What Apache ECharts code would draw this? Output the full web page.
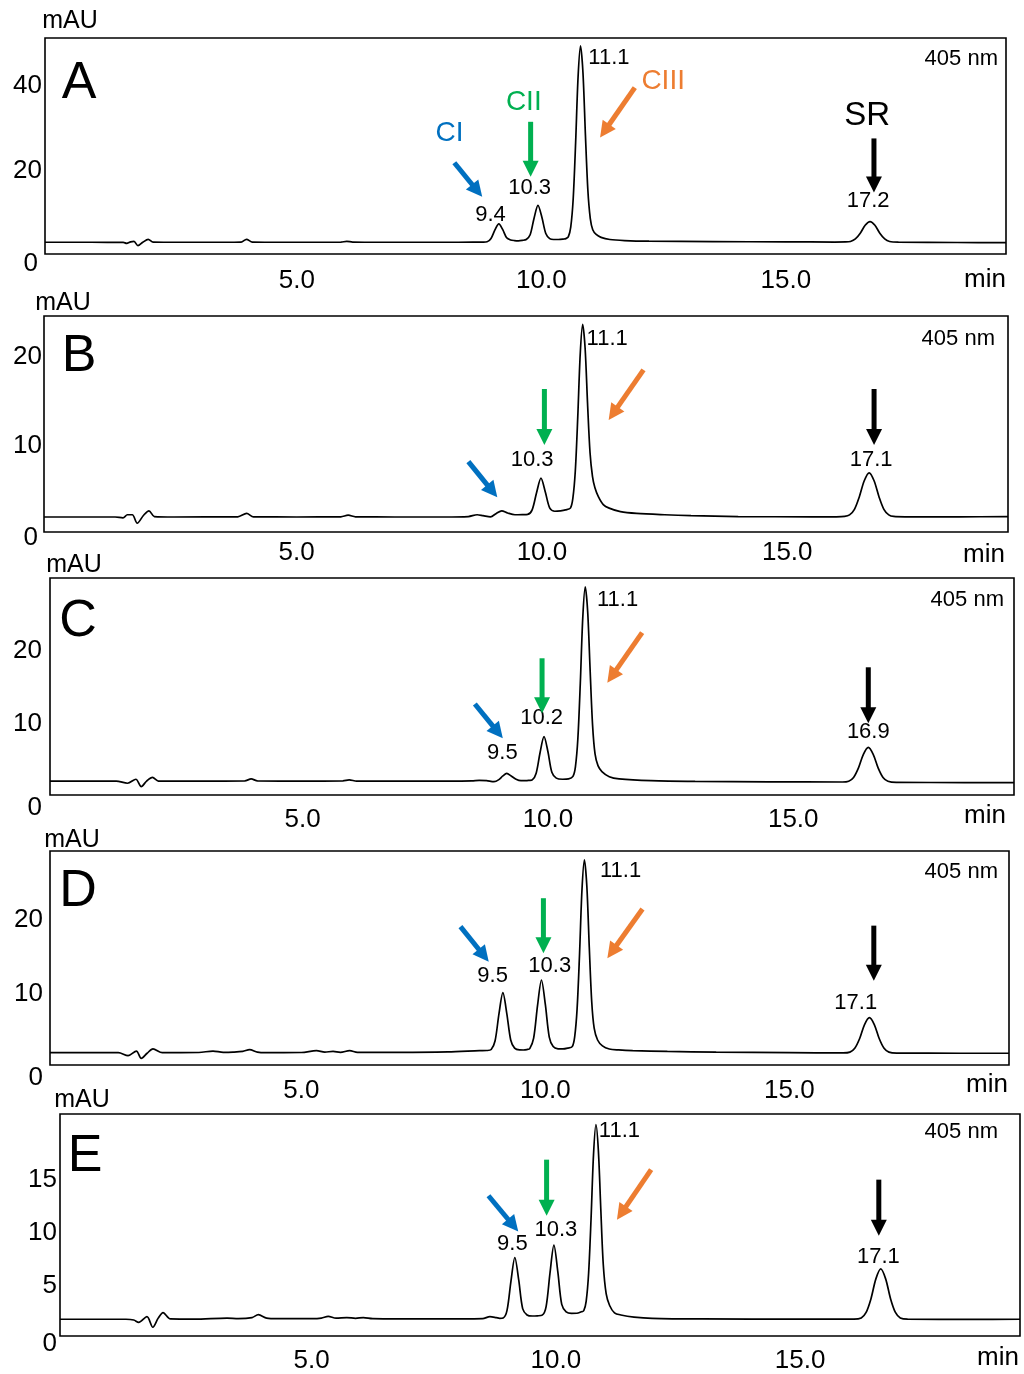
<!DOCTYPE html>
<html>
<head>
<meta charset="utf-8">
<script src="https://cdn.jsdelivr.net/npm/echarts@6/dist/echarts.min.js"></script>
<style>
  html, body { margin: 0; padding: 0; background: #fff; }
  #chart { width: 1024px; height: 1374px; }
</style>
</head>
<body>
<div id="chart"></div>
<script>
const FONT = '"Liberation Sans", Arial, Helvetica, sans-serif'
const BLUE = '#0070C0', GREEN = '#00B050', ORANGE = '#ED7D31', BLACK = '#000000'

// retention time (min) on the shared x axis
const xTicks = [5, 10, 15]
const xMin = -0.15
const xMax = 19.5

// chromatograms, [time min, absorbance mAU]
const traceA = [[-0.15,2.75],[0.8,2.75],[1.45,2.72],[1.52,2.5],[1.6,2.85],[1.67,2.95],[1.75,1.95],[1.85,2.75],[1.96,3.45],[2.06,2.8],[2.6,2.75],[3.5,2.75],[3.86,2.8],[3.97,3.45],[4.09,2.8],[5.0,2.75],[5.9,2.78],[6.02,2.98],[6.14,2.8],[7.0,2.75],[8.0,2.75],[8.6,2.78],[8.8,2.8],[8.89,2.87],[8.97,3.65],[9.05,5.64],[9.13,7.05],[9.21,5.7],[9.29,3.8],[9.37,3.3],[9.45,3.15],[9.53,3.1],[9.61,3.2],[9.69,3.4],[9.77,4.5],[9.85,8.4],[9.93,11.4],[10.01,8.6],[10.09,4.8],[10.17,3.6],[10.25,3.4],[10.35,3.4],[10.45,3.5],[10.5,3.6],[10.55,4.0],[10.6,6.3],[10.65,12.9],[10.7,26.1],[10.75,41.5],[10.8,48.8],[10.85,42.5],[10.9,28.0],[10.95,15.0],[11.0,8.3],[11.05,5.7],[11.12,4.6],[11.22,3.9],[11.4,3.4],[11.7,3.15],[12.2,3.0],[13.5,2.9],[15.0,2.85],[16.0,2.8],[16.22,2.82],[16.32,2.94],[16.42,3.53],[16.52,4.88],[16.62,6.73],[16.72,7.6],[16.82,6.73],[16.92,4.88],[17.02,3.53],[17.12,2.94],[17.3,2.78],[18.5,2.7],[19.5,2.65]]
const traceB = [[-0.15,1.7],[1.3,1.7],[1.46,1.6],[1.55,1.95],[1.65,1.95],[1.75,1.0],[1.88,1.9],[1.99,2.4],[2.1,1.75],[2.5,1.7],[3.8,1.72],[3.98,2.1],[4.12,1.72],[5.0,1.7],[5.9,1.72],[6.05,1.9],[6.2,1.72],[7.0,1.7],[8.0,1.7],[8.5,1.75],[8.68,1.95],[8.8,1.85],[8.95,1.72],[9.07,2.1],[9.18,2.4],[9.3,2.15],[9.45,1.95],[9.6,1.97],[9.71,2.0],[9.8,2.5],[9.89,4.44],[9.98,6.1],[10.07,4.5],[10.16,2.7],[10.26,2.35],[10.38,2.4],[10.48,2.5],[10.58,2.7],[10.63,3.8],[10.68,6.9],[10.73,13.0],[10.78,20.1],[10.83,23.5],[10.88,20.8],[10.93,14.5],[10.98,9.0],[11.03,6.3],[11.08,5.0],[11.15,4.0],[11.25,3.1],[11.37,2.7],[11.6,2.3],[11.93,2.1],[12.5,1.95],[13.04,1.85],[14.0,1.75],[15.5,1.72],[16.0,1.72],[16.17,1.76],[16.27,1.94],[16.37,2.57],[16.47,4.0],[16.57,5.8],[16.67,6.7],[16.77,5.8],[16.87,4.0],[16.97,2.57],[17.07,1.94],[17.17,1.76],[17.4,1.72],[18.5,1.72],[19.5,1.75]]
const traceC = [[-0.15,1.9],[1.2,1.9],[1.43,1.6],[1.6,2.15],[1.71,1.15],[1.82,1.9],[1.94,2.4],[2.06,1.9],[3.0,1.9],[3.82,1.92],[3.95,2.2],[4.08,1.92],[5.0,1.9],[5.82,1.92],[5.95,2.05],[6.1,1.9],[7.0,1.88],[8.0,1.88],[8.45,1.92],[8.6,2.0],[8.75,1.95],[8.9,1.82],[9.0,2.1],[9.08,2.6],[9.16,2.95],[9.25,2.6],[9.35,2.15],[9.45,1.95],[9.55,1.95],[9.62,2.0],[9.68,2.06],[9.76,2.97],[9.84,5.8],[9.92,7.95],[10.0,5.9],[10.08,3.1],[10.17,2.3],[10.3,2.15],[10.42,2.2],[10.51,2.55],[10.56,3.85],[10.61,7.7],[10.66,15.3],[10.71,24.2],[10.76,28.4],[10.81,25.0],[10.86,17.0],[10.91,9.5],[10.96,5.6],[11.02,4.0],[11.1,3.2],[11.25,2.5],[11.45,2.2],[12.1,1.95],[13.0,1.85],[14.5,1.8],[16.0,1.77],[16.13,1.88],[16.23,2.39],[16.33,3.7],[16.43,5.55],[16.53,6.5],[16.63,5.55],[16.73,3.7],[16.83,2.39],[16.93,1.88],[17.1,1.72],[18.5,1.7],[19.5,1.7]]
const traceD = [[-0.15,1.68],[1.25,1.68],[1.45,1.27],[1.62,1.9],[1.72,0.9],[1.84,1.6],[1.96,2.2],[2.15,1.68],[2.9,1.7],[3.19,1.9],[3.4,1.72],[3.6,1.75],[3.8,1.85],[3.94,2.1],[4.1,1.75],[4.28,1.68],[5.0,1.7],[5.31,1.95],[5.48,1.75],[5.65,1.85],[5.8,1.72],[5.99,1.95],[6.15,1.72],[7.0,1.72],[8.0,1.78],[8.65,1.95],[8.8,1.97],[8.89,2.1],[8.97,3.3],[9.05,7.0],[9.13,9.84],[9.21,7.0],[9.29,3.4],[9.37,2.3],[9.47,2.05],[9.55,2.04],[9.62,2.1],[9.68,2.23],[9.76,3.65],[9.84,8.1],[9.92,11.56],[10.0,8.2],[10.08,3.8],[10.16,2.5],[10.26,2.2],[10.36,2.18],[10.46,2.3],[10.55,2.5],[10.6,3.8],[10.65,7.6],[10.7,15.0],[10.75,23.8],[10.8,27.9],[10.85,24.3],[10.9,16.0],[10.95,8.6],[11.0,5.0],[11.07,3.4],[11.17,2.6],[11.31,2.18],[11.5,2.05],[11.79,1.95],[12.5,1.85],[13.5,1.75],[15.0,1.68],[16.1,1.64],[16.24,1.75],[16.34,2.27],[16.44,3.6],[16.54,5.5],[16.64,6.44],[16.74,5.5],[16.84,3.6],[16.94,2.27],[17.04,1.75],[17.2,1.62],[18.5,1.6],[19.5,1.6]]
const traceE = [[-0.15,1.59],[1.2,1.59],[1.36,1.52],[1.46,1.3],[1.63,1.84],[1.75,0.83],[1.86,1.7],[1.96,2.22],[2.11,1.62],[2.6,1.6],[3.27,1.7],[3.5,1.65],[3.78,1.75],[3.91,2.03],[4.08,1.7],[4.3,1.65],[5.0,1.65],[5.2,1.7],[5.34,1.87],[5.5,1.7],[5.72,1.75],[5.9,1.68],[6.06,1.75],[6.25,1.65],[7.5,1.62],[8.5,1.65],[8.65,1.84],[8.78,1.75],[8.85,1.68],[8.92,1.71],[9.0,2.43],[9.08,5.2],[9.16,7.46],[9.24,5.3],[9.32,2.6],[9.41,2.0],[9.52,1.9],[9.62,1.92],[9.72,1.98],[9.8,2.8],[9.88,6.0],[9.96,8.63],[10.04,6.1],[10.12,3.0],[10.21,2.3],[10.32,2.15],[10.43,2.16],[10.52,2.3],[10.57,2.4],[10.62,3.3],[10.67,5.96],[10.72,11.15],[10.77,17.2],[10.82,20.1],[10.87,17.6],[10.92,12.0],[10.97,6.8],[11.03,4.0],[11.1,2.9],[11.2,2.2],[11.33,2.0],[11.6,1.8],[11.97,1.68],[13.0,1.62],[15.0,1.6],[16.1,1.6],[16.25,1.72],[16.35,2.24],[16.45,3.55],[16.55,5.43],[16.65,6.38],[16.75,5.43],[16.85,3.55],[16.95,2.24],[17.05,1.72],[17.2,1.6],[18.5,1.58],[19.5,1.59]]

// y tick labels
const yTicksA = [0, 20, 40]
const yTicksB = [0, 10, 20]
const yTicksC = [0, 10, 20]
const yTicksD = [0, 10, 20]
const yTicksE = [0, 5, 10, 15]

// peak time labels [text, time, mAU]
const peaksA = [['9.4', 8.96, 9.25], ['10.3', 9.76, 15.57], ['11.1', 11.38, 45.9], ['17.2', 16.68, 12.41]]
const peaksB = [['10.3', 9.80, 8.15], ['11.1', 11.33, 21.86], ['17.1', 16.71, 8.15]]
const peaksC = [['9.5', 9.07, 5.8], ['10.2', 9.87, 10.5], ['11.1', 11.42, 26.6], ['16.9', 16.53, 8.66]]
const peaksD = [['9.5', 8.92, 12.11], ['10.3', 10.09, 13.47], ['11.1', 11.54, 26.33], ['17.1', 16.36, 8.44]]
const peaksE = [['9.5', 9.11, 8.71], ['10.3', 10.00, 10.05], ['11.1', 11.30, 19.46], ['17.1', 16.60, 7.52]]

// compound names, panel A only [text, colour, time, mAU, size]
const namesA = [['CI', BLUE, 8.12, 28.3, 28], ['CII', GREEN, 9.64, 35.5, 28], ['CIII', ORANGE, 12.49, 40.6, 28], ['SR', BLACK, 16.66, 32.4, 33]]

// arrows [colour, tail time, tail mAU, tip time, tip mAU]
const arrowsA = [[BLUE, 8.22, 21.4, 8.79, 13.4], [GREEN, 9.78, 31.0, 9.78, 18.1], [ORANGE, 11.91, 39.0, 11.20, 27.3], [BLACK, 16.80, 27.1, 16.80, 14.4]]
const arrowsB = [[BLUE, 8.50, 7.96, 9.09, 3.93], [GREEN, 10.05, 16.19, 10.05, 9.85], [ORANGE, 12.07, 18.35, 11.36, 12.68], [BLACK, 16.77, 16.19, 16.77, 9.85]]
const arrowsC = [[BLUE, 8.51, 12.41, 9.08, 7.74], [GREEN, 9.88, 18.65, 9.88, 11.15], [ORANGE, 11.92, 22.14, 11.21, 15.32], [BLACK, 16.53, 17.42, 16.53, 9.78]]
const arrowsD = [[BLUE, 8.26, 18.82, 8.84, 14.05], [GREEN, 9.96, 22.68, 9.96, 15.2], [ORANGE, 11.99, 21.22, 11.27, 14.52], [BLACK, 16.73, 18.95, 16.73, 11.47]]
const arrowsE = [[BLUE, 8.62, 13.33, 9.23, 9.93], [GREEN, 9.81, 16.76, 9.81, 11.43], [ORANGE, 11.95, 15.81, 11.25, 11.05], [BLACK, 16.61, 14.86, 16.61, 9.52]]

// layout of each panel (pixels)
const panels = [
  { letter: 'A', trace: traceA, yTicks: yTicksA, yMax: 50.65, peaks: peaksA, arrows: arrowsA, names: namesA,
    grid: [45, 38, 961, 216], yMargin: 3, xMargin: 14, zeroDrop: 8, zeroPad: 4,
    mau: [70, 21], min: [985, 280], letterPos: [79, 84], nm: [998, 59] },
  { letter: 'B', trace: traceB, yTicks: yTicksB, yMax: 24.45, peaks: peaksB, arrows: arrowsB, names: [],
    grid: [44, 316, 964, 216], yMargin: 2, xMargin: 8, zeroDrop: 4, zeroPad: 4,
    mau: [63, 303], min: [984, 555], letterPos: [79, 357], nm: [995, 339] },
  { letter: 'C', trace: traceC, yTicks: yTicksC, yMax: 29.6, peaks: peaksC, arrows: arrowsC, names: [],
    grid: [50, 578, 964, 217], yMargin: 8, xMargin: 12, zeroDrop: 11, zeroPad: 0,
    mau: [74, 565], min: [985, 816], letterPos: [78, 622], nm: [1004, 600] },
  { letter: 'D', trace: traceD, yTicks: yTicksD, yMax: 29.1, peaks: peaksD, arrows: arrowsD, names: [],
    grid: [50, 851, 959, 214], yMargin: 7, xMargin: 13, zeroDrop: 11, zeroPad: 0,
    mau: [72, 840], min: [987, 1085], letterPos: [78, 892], nm: [998, 872] },
  { letter: 'E', trace: traceE, yTicks: yTicksE, yMax: 21.1, peaks: peaksE, arrows: arrowsE, names: [],
    grid: [60, 1114, 960, 222], yMargin: 3, xMargin: 12, zeroDrop: 6, zeroPad: 0,
    mau: [82, 1100], min: [998, 1358], letterPos: [85, 1157], nm: [998, 1132] }
]

const chart = echarts.init(document.getElementById('chart'), null, { renderer: 'canvas' })

const tickText = { fontSize: 26, fontFamily: FONT, color: '#000' }

chart.setOption({
  animation: false,
  backgroundColor: '#fff',
  grid: panels.map(p => ({
    left: p.grid[0], top: p.grid[1], width: p.grid[2], height: p.grid[3],
    show: true, borderColor: '#000', borderWidth: 1.6, backgroundColor: 'transparent'
  })),
  xAxis: panels.map((p, i) => ({
    type: 'value', gridIndex: i, min: xMin, max: xMax,
    axisLine: { show: false }, axisTick: { show: false }, splitLine: { show: false },
    axisLabel: Object.assign({}, tickText, {
      margin: p.xMargin,
      customValues: xTicks,
      formatter: v => v.toFixed(1)
    })
  })),
  yAxis: panels.map((p, i) => ({
    type: 'value', gridIndex: i, min: 0, max: p.yMax,
    axisLine: { show: false }, axisTick: { show: false }, splitLine: { show: false },
    axisLabel: Object.assign({}, tickText, {
      margin: p.yMargin,
      padding: [4, 0, 0, 0],
      customValues: p.yTicks,
      formatter: v => (v === 0 ? '{z|0}' : String(v)),
      rich: { z: Object.assign({}, tickText, { padding: [p.zeroDrop * 2, p.zeroPad, 0, 0] }) }
    })
  })),
  series: panels.map((p, i) => ({
    type: 'line', xAxisIndex: i, yAxisIndex: i,
    data: p.trace, showSymbol: false, symbol: 'none',
    smooth: 0.3, silent: true,
    lineStyle: { color: '#000', width: 1.7 }
  }))
})

function text (str, x, y, size, color, align) {
  return {
    type: 'text', x: x, y: y, silent: true, z: 10,
    style: { text: str, fontSize: size, fontFamily: FONT, fill: color || '#000',
      align: align || 'center', verticalAlign: 'middle' }
  }
}

function arrow (color, p1, p2) {
  const headL = 16, headW = 16, shaft = 5
  const dx = p2[0] - p1[0], dy = p2[1] - p1[1]
  const len = Math.hypot(dx, dy)
  const ux = dx / len, uy = dy / len
  const nx = -uy, ny = ux
  const bx = p2[0] - ux * headL, by = p2[1] - uy * headL
  return [
    { type: 'line', silent: true, z: 10,
      shape: { x1: p1[0], y1: p1[1], x2: bx + ux, y2: by + uy },
      style: { stroke: color, lineWidth: shaft } },
    { type: 'polygon', silent: true, z: 10,
      shape: { points: [[p2[0], p2[1]], [bx + nx * headW / 2, by + ny * headW / 2], [bx - nx * headW / 2, by - ny * headW / 2]] },
      style: { fill: color } }
  ]
}

const graphics = []
panels.forEach((p, i) => {
  const px = (t, v) => chart.convertToPixel({ gridIndex: i }, [t, v])
  graphics.push(text('mAU', p.mau[0], p.mau[1], 25))
  graphics.push(text('min', p.min[0], p.min[1], 26))
  graphics.push(text(p.letter, p.letterPos[0], p.letterPos[1], 52))
  graphics.push(text('405 nm', p.nm[0], p.nm[1], 22, '#000', 'right'))
  p.peaks.forEach(([s, t, v]) => {
    const q = px(t, v)
    graphics.push(text(s, q[0], q[1], 22))
  })
  p.names.forEach(([s, c, t, v, size]) => {
    const q = px(t, v)
    graphics.push(text(s, q[0], q[1], size, c))
  })
  p.arrows.forEach(([c, t1, v1, t2, v2]) => {
    arrow(c, px(t1, v1), px(t2, v2)).forEach(g => graphics.push(g))
  })
})

chart.setOption({ graphic: graphics })
</script>
</body>
</html>
